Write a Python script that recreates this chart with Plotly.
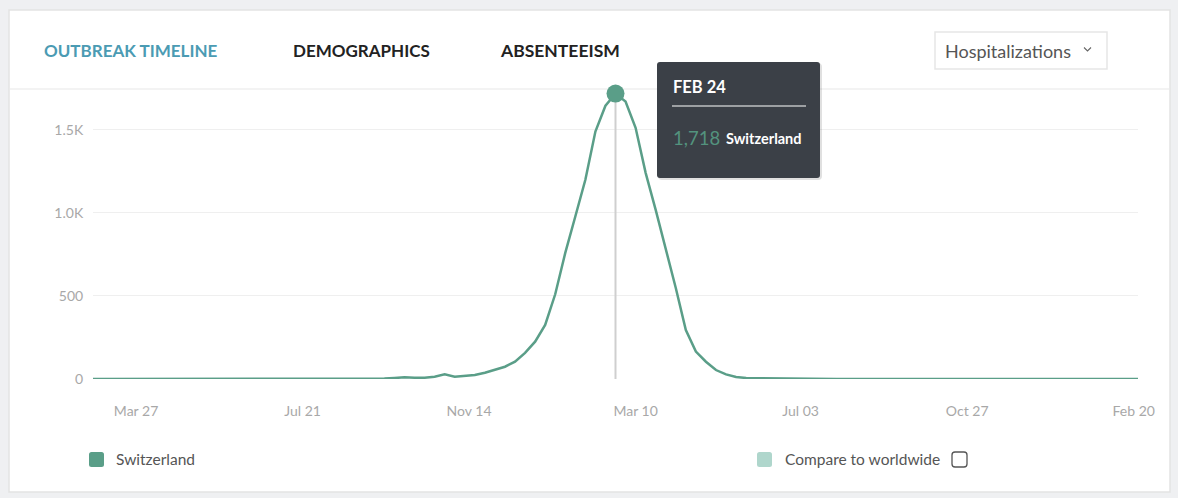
import pandas as pd
import plotly.graph_objects as go

W, H = 1178, 498

# ---- data ----
start_date = "2018-02-25"
hospitalizations = [
    0, 0, 0, 0, 0, 0, 0, 0, 0, 0,
    0, 0, 0, 0, 0, 0, 0, 0, 0, 0,
    0, 0, 0, 0, 0, 0, 1, 2, 4, 3,
    6, 10, 8, 8, 14, 28, 14, 18, 24, 38,
    54, 74, 104, 157, 225, 325, 510, 759, 978, 1199,
    1490, 1645, 1718, 1670, 1512, 1241, 1018, 789, 548, 295,
    165, 104, 54, 28, 12, 6, 5, 3, 2, 1,
    0, 0, 0, 0, 0, 0, 0, 0, 0, 0,
    0, 0, 0, 0, 0, 0, 0, 0, 0, 0,
    0, 0, 0, 0, 0, 0, 0, 0, 0, 0,
    0, 0, 0, 0, 0,
]
dates = pd.date_range(start_date, periods=len(hospitalizations), freq="7D")

x_tick_dates = ["2018-03-27", "2018-07-21", "2018-11-14", "2019-03-10",
                "2019-07-03", "2019-10-27", "2020-02-20"]
x_tick_labels = ["Mar 27", "Jul 21", "Nov 14", "Mar 10", "Jul 03", "Oct 27", "Feb 20"]
y_tick_vals = [0, 500, 1000, 1500]
y_tick_labels = ["0", "500", "1.0K", "1.5K"]

tabs = ["OUTBREAK TIMELINE", "DEMOGRAPHICS", "ABSENTEEISM"]
series_name = "Switzerland"
compare_label = "Compare to worldwide"
dropdown_label = "Hospitalizations"

peak_idx = max(range(len(hospitalizations)), key=lambda i: hospitalizations[i])
peak_date = dates[peak_idx]
peak_val = hospitalizations[peak_idx]

TEAL = "#5a9e88"
TEAL_LIGHT = "#afd6cc"
FONT = "Lato"


def px(x):
    return x / W


def py(y):
    return 1 - y / H


def rounded(x0, y0, x1, y1, r):
    """Rounded rectangle path in paper coordinates from pixel box."""
    return (f"M {px(x0 + r)} {py(y0)} L {px(x1 - r)} {py(y0)} "
            f"Q {px(x1)} {py(y0)} {px(x1)} {py(y0 + r)} "
            f"L {px(x1)} {py(y1 - r)} Q {px(x1)} {py(y1)} {px(x1 - r)} {py(y1)} "
            f"L {px(x0 + r)} {py(y1)} Q {px(x0)} {py(y1)} {px(x0)} {py(y1 - r)} "
            f"L {px(x0)} {py(y0 + r)} Q {px(x0)} {py(y0)} {px(x0 + r)} {py(y0)} Z")


fig = go.Figure()

fig.add_trace(go.Scatter(
    x=dates, y=hospitalizations, mode="lines",
    line=dict(color=TEAL, width=2.5), hoverinfo="skip", showlegend=False))

# hover guide line and peak marker
fig.add_trace(go.Scatter(
    x=[peak_date, peak_date], y=[0, peak_val], mode="lines",
    line=dict(color="#cfcfcf", width=2), hoverinfo="skip", showlegend=False))
fig.add_trace(go.Scatter(
    x=[peak_date], y=[peak_val], mode="markers",
    marker=dict(color=TEAL, size=18), cliponaxis=False,
    hoverinfo="skip", showlegend=False))

shapes = []
# card
shapes.append(dict(type="rect", xref="paper", yref="paper",
                   x0=px(9), x1=px(1170), y0=py(492), y1=py(10),
                   fillcolor="white", line=dict(color="#e3e3e3", width=1.5),
                   layer="below"))
# header separator
shapes.append(dict(type="line", xref="paper", yref="paper",
                   x0=px(10), x1=px(1169), y0=py(89), y1=py(89),
                   line=dict(color="#efefef", width=1.5), layer="below"))
# dropdown box
shapes.append(dict(type="rect", xref="paper", yref="paper",
                   x0=px(935), x1=px(1107), y0=py(69), y1=py(32),
                   fillcolor="white", line=dict(color="#e6e6e6", width=1.5),
                   layer="below"))
# dropdown chevron
shapes.append(dict(type="path", xref="paper", yref="paper",
                   path=f"M {px(1084)} {py(47.5)} L {px(1087.5)} {py(51)} L {px(1091)} {py(47.5)}",
                   line=dict(color="#666", width=1.1), layer="above"))
# tooltip shadow + box
shapes.append(dict(type="path", xref="paper", yref="paper",
                   path=rounded(658, 63, 822, 180, 4),
                   fillcolor="rgba(0,0,0,0.12)", line=dict(width=0), layer="above"))
shapes.append(dict(type="path", xref="paper", yref="paper",
                   path=rounded(657, 62, 820, 178, 3),
                   fillcolor="#3b4047", line=dict(width=0), layer="above"))
shapes.append(dict(type="line", xref="paper", yref="paper",
                   x0=px(672), x1=px(806), y0=py(106), y1=py(106),
                   line=dict(color="white", width=1.2), layer="above"))
# legend swatches
shapes.append(dict(type="path", xref="paper", yref="paper",
                   path=rounded(89, 452, 104, 467, 2.5),
                   fillcolor=TEAL, line=dict(width=0), layer="above"))
shapes.append(dict(type="path", xref="paper", yref="paper",
                   path=rounded(757, 452, 772, 467, 2.5),
                   fillcolor=TEAL_LIGHT, line=dict(width=0), layer="above"))
# checkbox
shapes.append(dict(type="path", xref="paper", yref="paper",
                   path=rounded(952, 452, 967, 467, 3),
                   fillcolor="white", line=dict(color="#555", width=1.3), layer="above"))

annotations = []


def text(x, y, s, size, color, weight="normal", anchor="left"):
    annotations.append(dict(xref="paper", yref="paper", x=px(x), y=py(y),
                            text=s, showarrow=False, xanchor=anchor, yanchor="middle",
                            font=dict(family=FONT, size=size, color=color, weight=weight)))


text(42, 50, tabs[0], 17, "#4b9bb3", "bold")
text(291, 50, tabs[1], 17, "#222222", "bold")
text(498, 50, tabs[2], 17.5, "#222222", "bold")
text(943, 51, dropdown_label, 18, "#555555")

text(671, 87, peak_date.strftime("%b %d").upper(), 16.5, "white", "bold")
text(671, 138, f"{peak_val:,}", 18.5, "#53937e")
text(724, 139, series_name, 14.5, "white", "bold")

text(114, 459, series_name, 15.5, "#555555")
text(783, 459, compare_label, 15.5, "#555555")

fig.update_layout(
    width=W, height=H,
    margin=dict(l=0, r=0, t=0, b=0, autoexpand=False),
    paper_bgcolor="#eff0f2",
    plot_bgcolor="rgba(0,0,0,0)",
    shapes=shapes,
    annotations=annotations,
    showlegend=False,
    font=dict(family=FONT),
    xaxis=dict(
        domain=[px(93), px(1138)],
        range=[dates[0], dates[-1]],
        tickvals=x_tick_dates, ticktext=x_tick_labels,
        showgrid=False, zeroline=False, showline=False,
        ticks="outside", ticklen=19, tickcolor="rgba(0,0,0,0)",
        tickfont=dict(family=FONT, size=14, color="#a8a8a8"),
        automargin=False, fixedrange=True,
    ),
    yaxis=dict(
        domain=[py(379), py(80)],
        range=[0, 1800],
        tickvals=y_tick_vals, ticktext=y_tick_labels,
        showgrid=True, gridcolor="#efefef", gridwidth=1,
        zeroline=False, showline=False,
        ticks="outside", ticklen=6, tickcolor="rgba(0,0,0,0)",
        tickfont=dict(family=FONT, size=14, color="#a8a8a8"),
        automargin=False, fixedrange=True,
    ),
)

fig.write_html("out.html", config={"displayModeBar": False})
